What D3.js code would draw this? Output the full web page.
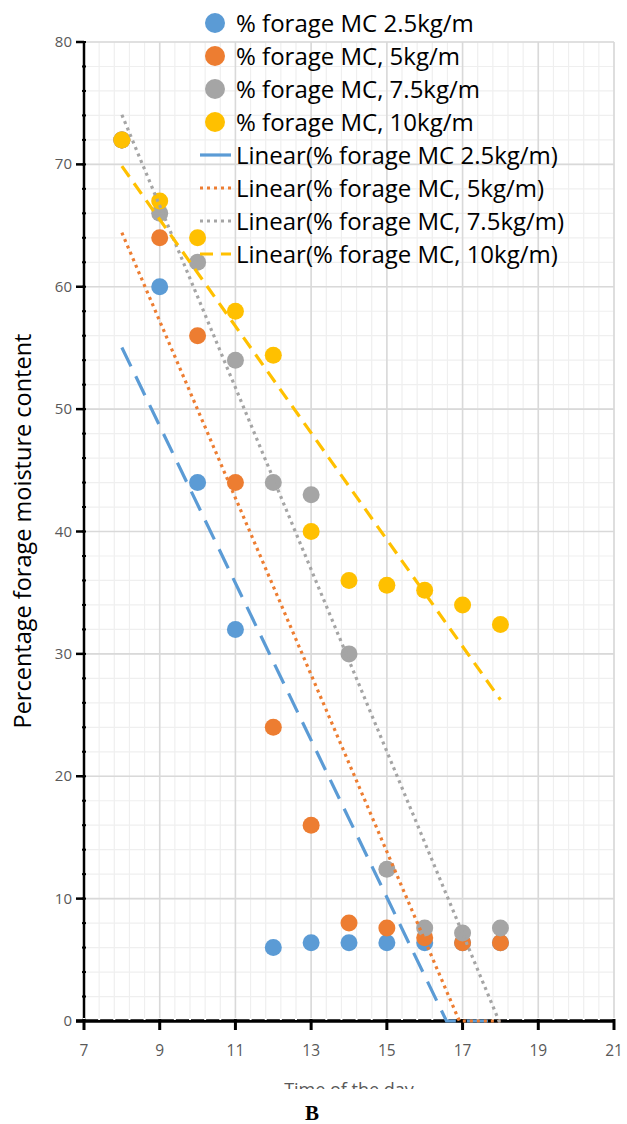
<!DOCTYPE html>
<html lang="en">
<head>
<meta charset="utf-8">
<title>Forage moisture content</title>
<script src="https://cdn.jsdelivr.net/npm/d3@7"></script>
<style>
  body { margin: 0; background: #fff; }
  svg { display: block; }
</style>
</head>
<body>
<script>
// Time of the day (hours)
const hours = [8, 9, 10, 11, 12, 13, 14, 15, 16, 17, 18];

// % forage moisture content per swath density
const mc25 = [72, 60, 44, 32, 6, 6.4, 6.4, 6.4, 6.4, 6.4, 6.4];
const mc5 = [72, 64, 56, 44, 24, 16, 8, 7.6, 6.8, 6.4, 6.4];
const mc75 = [72, 66, 62, 54, 44, 43, 30, 12.4, 7.6, 7.2, 7.6];
const mc10 = [72, 67, 64, 58, 54.4, 40, 36, 35.6, 35.2, 34, 32.4];

const seriesNames = ["% forage MC 2.5kg/m", "% forage MC, 5kg/m", "% forage MC, 7.5kg/m", "% forage MC, 10kg/m"];
const xTicks = [7, 9, 11, 13, 15, 17, 19, 21];
const yTicks = [0, 10, 20, 30, 40, 50, 60, 70, 80];

const w = 627, h = 1124;
const colors = ["#5b9bd5", "#ed7d31", "#a5a5a5", "#ffc000"];
const dashes = ["21,11", "3,4", "3,4", "13,8"];

const series = [mc25, mc5, mc75, mc10].map((vals, i) => ({
  name: seriesNames[i],
  color: colors[i],
  dash: dashes[i],
  points: hours.map((x, j) => ({ x: x, y: vals[j] }))
}));

const x = d3.scaleLinear().domain([7, 21]).range([84, 614]);
const y = d3.scaleLinear().domain([0, 80]).range([1021, 42]);

const svg = d3.select("body").append("svg")
  .attr("width", w)
  .attr("height", h);

// gridlines
const minorX = d3.range(7, 21.001, 0.4);
const minorY = d3.range(0, 80.001, 2);
svg.append("g").selectAll("line").data(minorX).enter().append("line")
  .attr("x1", d => x(d)).attr("x2", d => x(d))
  .attr("y1", y(0)).attr("y2", y(80))
  .attr("stroke", "#efefef").attr("stroke-width", 1.2);
svg.append("g").selectAll("line").data(minorY).enter().append("line")
  .attr("x1", x(7)).attr("x2", x(21))
  .attr("y1", d => y(d)).attr("y2", d => y(d))
  .attr("stroke", "#efefef").attr("stroke-width", 1.2);
svg.append("g").selectAll("line").data(xTicks).enter().append("line")
  .attr("x1", d => x(d)).attr("x2", d => x(d))
  .attr("y1", y(0)).attr("y2", y(80))
  .attr("stroke", "#d9d9d9").attr("stroke-width", 1.6);
svg.append("g").selectAll("line").data(yTicks).enter().append("line")
  .attr("x1", x(7)).attr("x2", x(21))
  .attr("y1", d => y(d)).attr("y2", d => y(d))
  .attr("stroke", "#d9d9d9").attr("stroke-width", 1.6);

// axes
const yAxis = svg.append("g");
yAxis.append("line")
  .attr("x1", x(7)).attr("x2", x(7)).attr("y1", y(0)).attr("y2", y(80))
  .attr("stroke", "#000").attr("stroke-width", 2.5);
yAxis.selectAll(".minor").data(minorY).enter().append("line")
  .attr("x1", x(7) - 2).attr("x2", x(7) + 2)
  .attr("y1", d => y(d)).attr("y2", d => y(d))
  .attr("stroke", "#000").attr("stroke-width", 2);
yAxis.selectAll(".major").data(yTicks).enter().append("line")
  .attr("x1", x(7) - 8).attr("x2", x(7))
  .attr("y1", d => y(d)).attr("y2", d => y(d))
  .attr("stroke", "#000").attr("stroke-width", 2.5);
yAxis.selectAll("text").data(yTicks).enter().append("text")
  .attr("x", x(7) - 12)
  .attr("y", d => y(d) + 5)
  .attr("text-anchor", "end")
  .attr("font-family", "Open Sans, sans-serif")
  .attr("font-size", 15)
  .attr("fill", "#595959")
  .text(d => d);

const xAxis = svg.append("g");
xAxis.append("line")
  .attr("x1", x(7) - 8).attr("x2", x(21)).attr("y1", y(0)).attr("y2", y(0))
  .attr("stroke", "#000").attr("stroke-width", 3.5);
xAxis.selectAll(".minor").data(minorX).enter().append("line")
  .attr("x1", d => x(d)).attr("x2", d => x(d))
  .attr("y1", y(0) - 3).attr("y2", y(0) - 1)
  .attr("stroke", "#fff").attr("stroke-width", 2);
xAxis.selectAll(".major").data(xTicks).enter().append("line")
  .attr("x1", d => x(d)).attr("x2", d => x(d))
  .attr("y1", y(0) - 2).attr("y2", y(0) + 9)
  .attr("stroke", "#000").attr("stroke-width", 3);
xAxis.selectAll("text").data(xTicks).enter().append("text")
  .attr("x", d => x(d))
  .attr("y", y(0) + 35)
  .attr("text-anchor", "middle")
  .attr("font-family", "Open Sans, sans-serif")
  .attr("font-size", 15.5)
  .attr("fill", "#595959")
  .text(d => d);

// linear trendlines (least squares), held at the axis minimum like Excel
function trend(pts) {
  const mx = d3.mean(pts, d => d.x), my = d3.mean(pts, d => d.y);
  const b = d3.sum(pts, d => (d.x - mx) * (d.y - my)) / d3.sum(pts, d => (d.x - mx) * (d.x - mx));
  const a = my - b * mx;
  const x0 = d3.min(pts, d => d.x), x1 = d3.max(pts, d => d.x);
  const out = [{ x: x0, y: Math.max(0, a + b * x0) }];
  const xz = -a / b;
  if (xz > x0 && xz < x1) out.push({ x: xz, y: 0 });
  out.push({ x: x1, y: Math.max(0, a + b * x1) });
  return out;
}

const line = d3.line().x(d => x(d.x)).y(d => y(d.y));

// points
series.forEach(s => {
  svg.append("g").selectAll("circle").data(s.points).enter().append("circle")
    .attr("cx", d => x(d.x))
    .attr("cy", d => y(d.y))
    .attr("r", 8.5)
    .attr("fill", s.color);
});

series.forEach(s => {
  svg.append("path")
    .attr("d", line(trend(s.points)))
    .attr("fill", "none")
    .attr("stroke", s.color)
    .attr("stroke-width", 3.2)
    .attr("stroke-dasharray", s.dash);
});

// axis titles
svg.append("text")
  .attr("transform", "translate(31,531) rotate(-90)")
  .attr("text-anchor", "middle")
  .attr("font-family", "Open Sans, sans-serif")
  .attr("font-size", 23.5)
  .attr("fill", "#000")
  .text("Percentage forage moisture content");

svg.append("clipPath").attr("id", "cut")
  .append("rect").attr("x", 0).attr("y", 0).attr("width", w).attr("height", 1089);
svg.append("text")
  .attr("x", x(14))
  .attr("y", 1096)
  .attr("clip-path", "url(#cut)")
  .attr("text-anchor", "middle")
  .attr("font-family", "Open Sans, sans-serif")
  .attr("font-size", 18)
  .attr("fill", "#595959")
  .text("Time of the day");

svg.append("text")
  .attr("x", 312)
  .attr("y", 1120)
  .attr("text-anchor", "middle")
  .attr("font-family", "Liberation Serif, serif")
  .attr("font-weight", "bold")
  .attr("font-size", 21)
  .text("B");

// legend
const legend = svg.append("g");
const rowY = i => 23 + i * 33;
series.forEach((s, i) => {
  legend.append("circle")
    .attr("cx", 215).attr("cy", rowY(i)).attr("r", 10)
    .attr("fill", s.color);
  legend.append("text")
    .attr("x", 236).attr("y", rowY(i) + 8.5)
    .attr("font-family", "Open Sans, sans-serif")
    .attr("font-size", 24)
    .attr("fill", "#000")
    .text(s.name);
});
series.forEach((s, i) => {
  const yy = rowY(i + 4);
  legend.append("line")
    .attr("x1", 200).attr("x2", 231).attr("y1", yy).attr("y2", yy)
    .attr("stroke", s.color).attr("stroke-width", 3.2)
    .attr("stroke-dasharray", i === 0 ? null : s.dash);
  legend.append("text")
    .attr("x", 236).attr("y", yy + 8.5)
    .attr("font-family", "Open Sans, sans-serif")
    .attr("font-size", 24)
    .attr("fill", "#000")
    .text("Linear(" + s.name + ")");
});
</script>
</body>
</html>
